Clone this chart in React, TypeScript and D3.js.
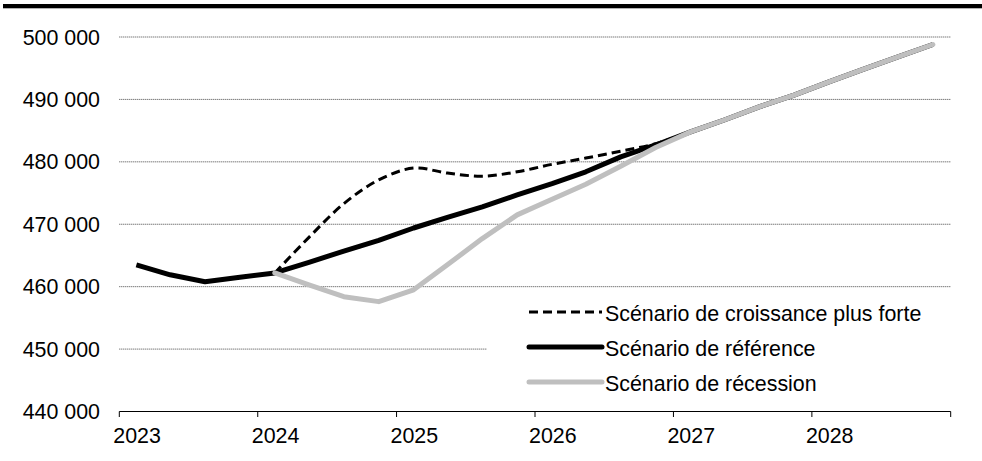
import React from "react";
import * as d3 from "d3";

const quarters: string[] = [
  "2023-T1", "2023-T2", "2023-T3", "2023-T4",
  "2024-T1", "2024-T2", "2024-T3", "2024-T4",
  "2025-T1", "2025-T2", "2025-T3", "2025-T4",
  "2026-T1", "2026-T2", "2026-T3", "2026-T4",
  "2027-T1", "2027-T2", "2027-T3", "2027-T4",
  "2028-T1", "2028-T2", "2028-T3", "2028-T4",
];

const reference: (number | null)[] = [
  463500, 461900, 460800, 461500,
  462200, 463900, 465700, 467400,
  469400, 471100, 472800, 474700,
  476500, 478400, 480800, 482700,
  484800, 486700, 488800, 490700,
  492800, 494800, 496800, 498800,
];

const strongGrowth: (number | null)[] = [
  null, null, null, null,
  462200, 467900, 473300, 477100,
  479000, 478200, 477700, 478400,
  479600, 480600, 481700, 482900,
  484800, 486700, 488800, 490700,
  492800, 494800, 496800, 498800,
];

const recession: (number | null)[] = [
  null, null, null, null,
  462200, 460300, 458400, 457600,
  459500, 463500, 467700, 471500,
  474000, 476400, 479300, 482300,
  484800, 486700, 488800, 490700,
  492800, 494800, 496800, 498800,
];

const yTicks: number[] = [440000, 450000, 460000, 470000, 480000, 490000, 500000];
const xTickYears: number[] = [2023, 2024, 2025, 2026, 2027, 2028, 2029];
const xLabelYears: number[] = [2023, 2024, 2025, 2026, 2027, 2028];

const legendLabels: string[] = [
  "Scénario de croissance plus forte",
  "Scénario de référence",
  "Scénario de récession",
];

const W = 982;
const H = 461;
const FONT = "'Liberation Sans', Arial, Helvetica, sans-serif";
const FS = 21.4;

function quarterDate(q: string): Date {
  const [y, t] = q.split("-T");
  const qi = +t - 1;
  // middle of the quarter
  return new Date(+y, qi * 3 + 1, 15);
}

const fmt = d3.formatLocale({
  decimal: ",",
  thousands: " ",
  grouping: [3],
  currency: ["", ""],
}).format(",d");

export default function App() {
  const x = d3
    .scaleTime()
    .domain([new Date(2023, 0, 1), new Date(2029, 0, 1)])
    .range([119.3, 950.7]);
  const y = d3.scaleLinear().domain([440000, 500000]).range([411.5, 37]);

  type P = { d: Date; v: number | null };
  const mk = (arr: (number | null)[]): P[] =>
    quarters.map((q, i) => ({ d: quarterDate(q), v: arr[i] }));

  const lineLin = d3
    .line<P>()
    .defined((p) => p.v !== null)
    .x((p) => x(p.d))
    .y((p) => y(p.v as number));

  const lineSmooth = d3
    .line<P>()
    .defined((p) => p.v !== null)
    .x((p) => x(p.d))
    .y((p) => y(p.v as number))
    .curve(d3.curveCatmullRom.alpha(0.5));

  const x0 = x(new Date(2023, 0, 1));
  const x1 = x(new Date(2029, 0, 1));

  const legendY = [312, 347, 382];
  const legendStyles = [
    { stroke: "#000", width: 3, dash: "9,5" },
    { stroke: "#000", width: 5, dash: "" },
    { stroke: "#bfbfbf", width: 5, dash: "" },
  ];

  return (
    <svg
      width={W}
      height={H}
      style={{ position: "absolute", left: 0, top: 0, background: "#fff" }}
      fontFamily={FONT}
    >
      <rect x={0} y={0} width={W} height={H} fill="#fff" />
      <rect x={3} y={4} width={W - 3} height={4.3} fill="#000" />

      {/* gridlines */}
      {yTicks
        .filter((t) => t !== 440000)
        .map((t) => (
          <line
            key={t}
            x1={x0}
            x2={x1}
            y1={y(t)}
            y2={y(t)}
            stroke="#444"
            strokeWidth={1}
            strokeDasharray="1,1"
          />
        ))}

      {/* y labels */}
      {yTicks.map((t) => (
        <text
          key={t}
          x={100}
          y={y(t) + 7.6}
          textAnchor="end"
          fontSize={FS}
          fill="#000"
        >
          {fmt(t)}
        </text>
      ))}

      {/* legend background */}
      <rect x={487} y={295} width={465} height={106} fill="#fff" />

      {/* x axis */}
      <line x1={x0} x2={x1} y1={y(440000)} y2={y(440000)} stroke="#000" strokeWidth={1.2} />
      {xTickYears.map((yr) => (
        <line
          key={yr}
          x1={x(new Date(yr, 0, 1))}
          x2={x(new Date(yr, 0, 1))}
          y1={y(440000)}
          y2={y(440000) + 5.5}
          stroke="#000"
          strokeWidth={1}
        />
      ))}
      {xLabelYears.map((yr) => (
        <text
          key={yr}
          x={x(new Date(yr, 0, 1)) - 6}
          y={442.8}
          textAnchor="start"
          fontSize={FS}
          fill="#000"
        >
          {yr}
        </text>
      ))}

      {/* series */}
      <path
        d={lineSmooth(mk(strongGrowth)) || ""}
        fill="none"
        stroke="#000"
        strokeWidth={3}
        strokeDasharray="9,5"
      />
      <path
        d={lineLin(mk(reference)) || ""}
        fill="none"
        stroke="#000"
        strokeWidth={5}
        strokeLinejoin="round"
      />
      <path
        d={lineLin(mk(recession)) || ""}
        fill="none"
        stroke="#bfbfbf"
        strokeWidth={5}
        strokeLinejoin="round"
        strokeLinecap="round"
      />

      {/* legend */}
      {legendLabels.map((lab, i) => (
        <g key={lab}>
          <line
            x1={529}
            x2={602}
            y1={legendY[i]}
            y2={legendY[i]}
            stroke={legendStyles[i].stroke}
            strokeWidth={legendStyles[i].width}
            strokeDasharray={legendStyles[i].dash || undefined}
            strokeLinecap={i === 0 ? "butt" : "round"}
          />
          <text x={605} y={legendY[i] + 8.5} fontSize={FS} fill="#000">
            {lab}
          </text>
        </g>
      ))}
    </svg>
  );
}
